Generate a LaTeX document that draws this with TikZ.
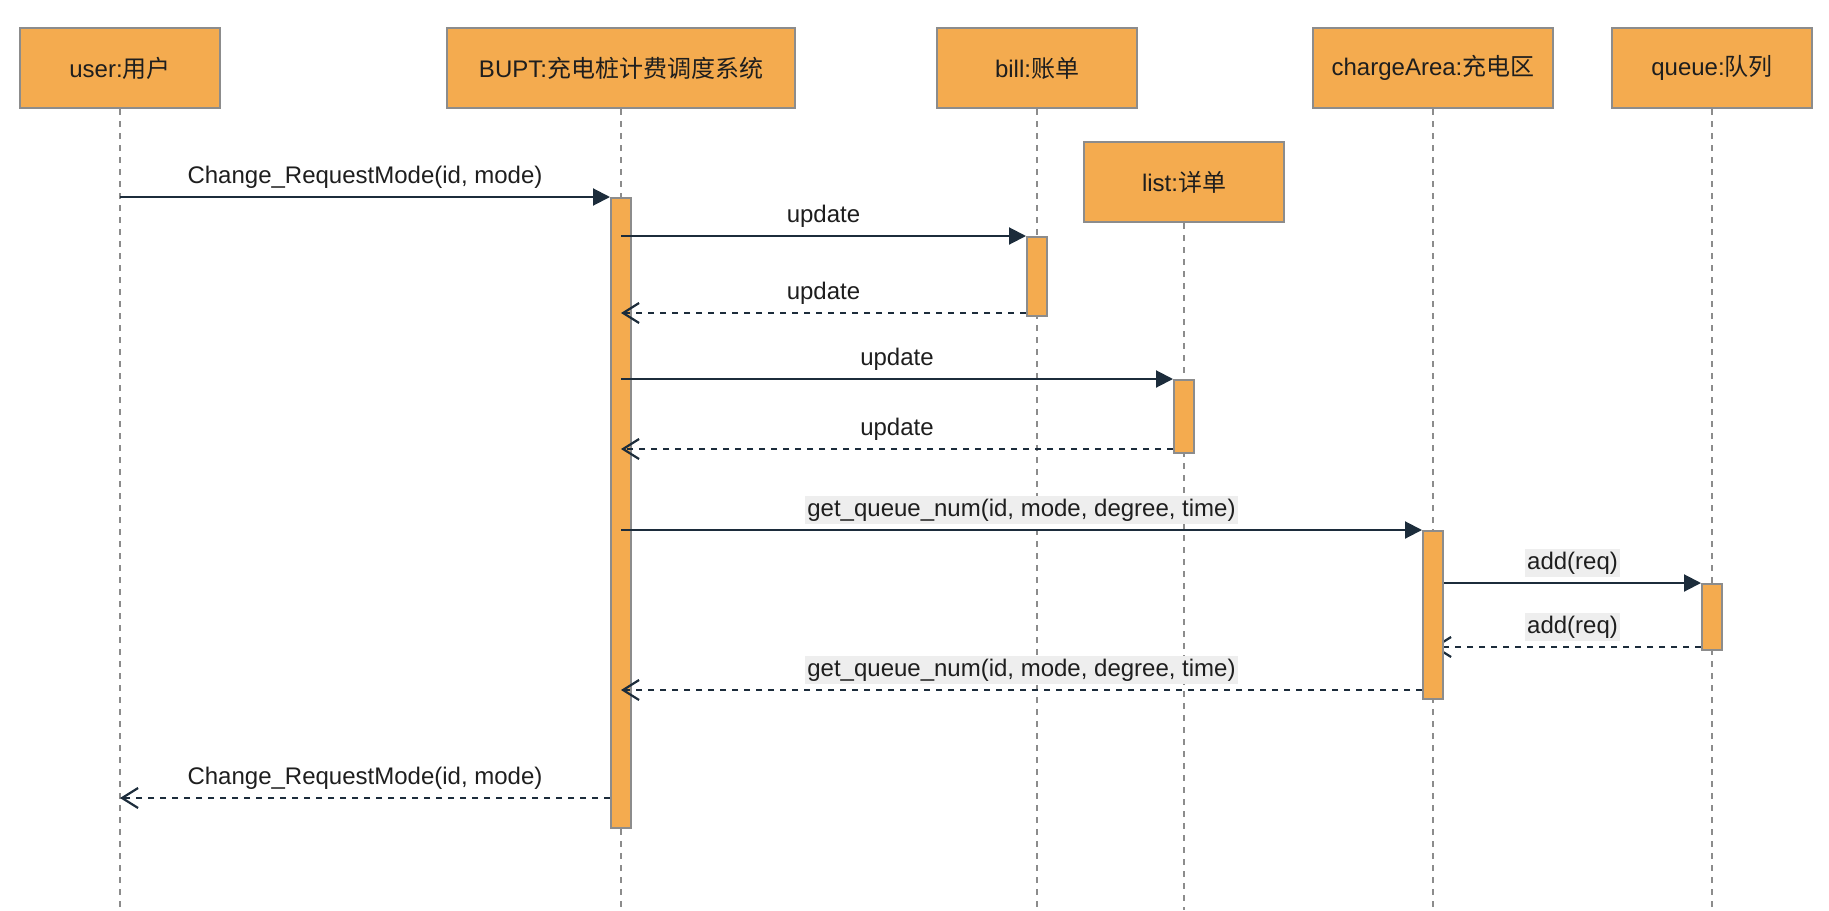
\documentclass[tikz,border=0pt]{standalone}
\usepackage{fontspec}
\setmainfont{Liberation Sans}
\newfontfamily\cjk{Noto Sans CJK SC}
\usepackage{xcolor}
\usetikzlibrary{arrows.meta,positioning}
\definecolor{morange}{HTML}{F4AB4F}
\definecolor{mgray}{HTML}{8C8C8C}
\definecolor{mnavy}{HTML}{1C2C3B}
\definecolor{mlabel}{HTML}{EEEEEE}
\definecolor{mtext}{HTML}{1E1E1E}
\pgfdeclarelayer{back}
\pgfsetlayers{back,main}
\tikzstyle{l2}=[line width=1pt]
\tikzstyle{head}=[rectangle, draw=mgray, fill=morange, l2, minimum height=40pt, inner sep=0pt, text=mtext, font=\fontsize{12}{14}\selectfont]
\tikzstyle{act}=[rectangle, draw=mgray, fill=morange, l2, minimum width=10pt, inner sep=0pt]
\tikzstyle{life}=[draw=mgray, line width=0.8pt, dash pattern=on 3pt off 3pt]
\tikzstyle{msg}=[draw=mnavy, l2, -{Triangle[length=8.5pt,width=8.5pt]}]
\tikzstyle{ret}=[draw=mnavy, l2, dash pattern=on 3pt off 3pt, -{Straight Barb[length=8pt,width=10pt,line width=1.1pt]}]
\tikzstyle{lbl}=[fill=white, inner sep=1pt, text height=9pt, text depth=3pt, text=mtext, font=\fontsize{12}{14}\selectfont]
\tikzstyle{lblg}=[lbl, fill=mlabel]

\begin{document}
\begin{tikzpicture}[x=1pt, y=-1pt]
    \useasboundingbox (0,0) rectangle (914.5,455);
    \coordinate (bottom) at (0,455);

    % heads
    \node[head, minimum width=100pt] at (60,34) (user) {user:{\cjk 用户}};
    \node[head, minimum width=174pt] at (310.5,34) (bupt) {BUPT:{\cjk 充电桩计费调度系统}};
    \node[head, minimum width=100pt] at (518.5,34) (bill) {bill:{\cjk 账单}};
    \node[head, minimum width=100pt] at (592,91) (list) {list:{\cjk 详单}};
    \node[head, minimum width=120pt] at (716.5,34) (charge) {chargeArea:{\cjk 充电区}};
    \node[head, minimum width=100pt] at (856,34) (queue) {queue:{\cjk 队列}};

    % lifelines
    \foreach \h in {user, bupt, bill, list, charge, queue}
        \draw[life] (\h.south) -- (\h.south |- bottom);

    % activations
    \node[act, minimum height=315pt] at (310.5,256.5) (abupt) {};
    \node[act, minimum height=39.5pt] at (518.5,138.25) (abill) {};
    \node[act, minimum height=36.5pt] at (592,208.25) (alist) {};
    \node[act, minimum height=84pt] at (716.5,307.5) (acharge) {};
    \node[act, minimum height=33pt] at (856,308.5) (aqueue) {};

    % message levels
    \coordinate (y3) at (0,156.5);
    \coordinate (y5) at (0,224.5);
    \coordinate (y8) at (0,323.5);
    \coordinate (y9) at (0,345);
    \coordinate (y10) at (0,399);

    \draw[msg] (user.south |- abupt.north) -- (abupt.north west)
        node[lbl, midway, yshift=10pt] (l1) {Change\_RequestMode(id, mode)};
    \draw[msg] (abupt.center |- abill.north) -- (abill.north west)
        node[lbl, midway, yshift=10pt] (l2) {update};
    \draw[ret] (abill.west |- y3) -- (abupt.center |- y3)
        node[lbl, midway, yshift=10pt] (l3) {update};
    \draw[msg] (abupt.center |- alist.north) -- (alist.north west)
        node[lbl, midway, yshift=10pt] (l4) {update};
    \draw[ret] (alist.west |- y5) -- (abupt.center |- y5)
        node[lbl, midway, yshift=10pt] (l5) {update};
    \draw[msg] (abupt.center |- acharge.north) -- (acharge.north west)
        node[lblg, midway, yshift=10pt] (l6) {get\_queue\_num(id, mode, degree, time)};
    \draw[msg] (acharge.east |- aqueue.north) -- (aqueue.north west)
        node[lblg, midway, yshift=10pt] (l7) {add(req)};
    \begin{pgfonlayer}{back}
        \draw[ret] (aqueue.west |- y8) -- (acharge.center |- y8);
    \end{pgfonlayer}
    \path (aqueue.west |- y8) -- (acharge.east |- y8)
        node[lblg, midway, yshift=10pt] (l8) {add(req)};
    \draw[ret] (acharge.west |- y9) -- (abupt.center |- y9)
        node[lblg, midway, yshift=10pt] (l9) {get\_queue\_num(id, mode, degree, time)};
    \draw[ret] (abupt.west |- y10) -- (user.south |- y10)
        node[lbl, midway, yshift=10pt] (l10) {Change\_RequestMode(id, mode)};
\end{tikzpicture}
\end{document}
